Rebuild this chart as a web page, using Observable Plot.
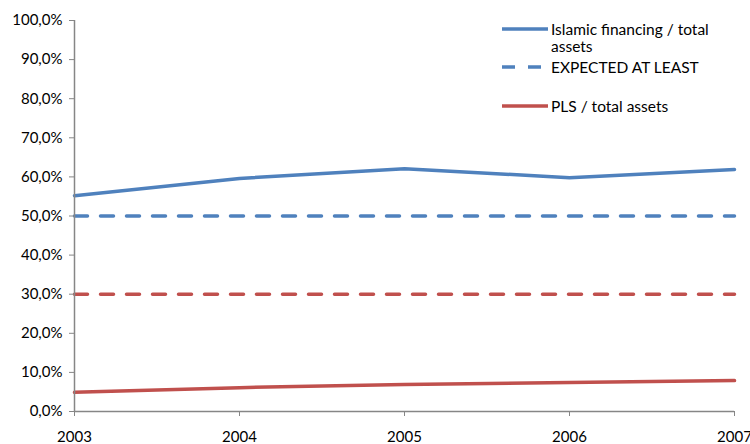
<!DOCTYPE html>
<html>
<head>
<meta charset="utf-8">
<script src="https://cdn.jsdelivr.net/npm/d3@7"></script>
<script src="https://cdn.jsdelivr.net/npm/@observablehq/plot@0.6"></script>
<style>
  html, body { margin: 0; padding: 0; background: #fff; }
  #wrap { position: relative; width: 750px; height: 444px; font-family: Lato, "Open Sans", sans-serif; }
  #legend { position: absolute; left: 502px; top: 21px; font-size: 15.5px; color: #000; }
  .item { display: flex; align-items: flex-start; }
  .item svg { flex: none; margin-top: 3px; }
  .item span { margin-left: 3px; line-height: 17px; width: 180px; }
</style>
</head>
<body>
<div id="wrap"></div>
<script>
const years = [2003, 2004, 2005, 2006, 2007];
const islamicFinancing = [0.552, 0.596, 0.621, 0.598, 0.619];
const plsAssets = [0.049, 0.061, 0.069, 0.074, 0.079];
const expectedIslamic = [0.5, 0.5, 0.5, 0.5, 0.5];
const expectedPLS = [0.3, 0.3, 0.3, 0.3, 0.3];
const yTicks = [0, 0.1, 0.2, 0.3, 0.4, 0.5, 0.6, 0.7, 0.8, 0.9, 1.0];
const seriesNames = ["Islamic financing / total assets", "EXPECTED AT LEAST", "PLS / total assets"];

const blue = "#4F81BD", red = "#C0504D", gray = "#868686";
const fmt = d => (d * 100).toFixed(1).replace(".", ",") + "%";

const chart = Plot.plot({
  width: 750,
  height: 444,
  marginLeft: 74,
  marginRight: 16,
  marginTop: 20,
  marginBottom: 33,
  style: { fontFamily: "Lato, 'Open Sans', sans-serif", fontSize: "15px", color: "#000", background: "#fff" },
  x: { type: "linear", domain: [2003, 2007] },
  y: { domain: [0, 1] },
  marks: [
    Plot.lineY(expectedIslamic, { x: (d, i) => years[i], y: d => d, stroke: blue, strokeWidth: 3.5, strokeDasharray: "13,13" }),
    Plot.lineY(expectedPLS, { x: (d, i) => years[i], y: d => d, stroke: red, strokeWidth: 3.5, strokeDasharray: "13,13" }),
    Plot.lineY(islamicFinancing, { x: (d, i) => years[i], y: d => d, stroke: blue, strokeWidth: 3.5 }),
    Plot.lineY(plsAssets, { x: (d, i) => years[i], y: d => d, stroke: red, strokeWidth: 3.5 }),
    Plot.ruleX([2003], { stroke: gray, strokeWidth: 1.5 }),
    Plot.ruleY([0], { stroke: gray, strokeWidth: 1.5 }),
    Plot.axisY({ ticks: yTicks, tickFormat: fmt, tickSize: 5, tickPadding: 7, stroke: gray, fill: "#000", label: null }),
    Plot.axisX({ ticks: years, tickFormat: d => String(d), tickSize: 5, tickPadding: 15, stroke: gray, fill: "#000", label: null })
  ]
});

const wrap = document.getElementById("wrap");
wrap.appendChild(chart);

const legend = document.createElement("div");
legend.id = "legend";
const entries = [
  { name: seriesNames[0], color: blue, dash: null, gapAfter: 4 },
  { name: seriesNames[1], color: blue, dash: "13,13", gapAfter: 22 },
  { name: seriesNames[2], color: red, dash: null, gapAfter: 0 }
];
entries.forEach(e => {
  const div = document.createElement("div");
  div.className = "item";
  div.style.marginBottom = e.gapAfter + "px";
  div.innerHTML = `<svg width="46" height="10"><line x1="0" x2="46" y1="5" y2="5" stroke="${e.color}" stroke-width="3.5" ${e.dash ? `stroke-dasharray="${e.dash}"` : ""}/></svg><span>${e.name}</span>`;
  legend.appendChild(div);
});
wrap.appendChild(legend);
</script>
</body>
</html>
